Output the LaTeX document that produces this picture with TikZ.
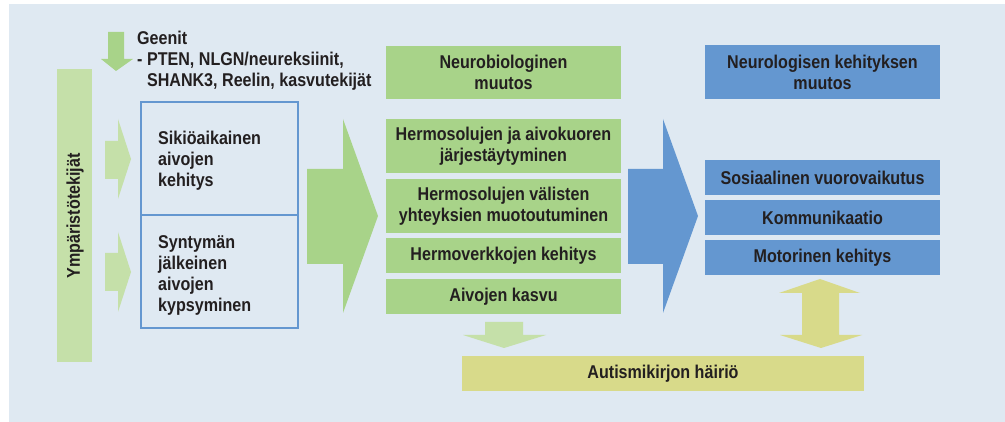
\documentclass[tikz,border=0pt]{standalone}
\usepackage{fontspec}
\setmainfont{Liberation Sans}[FakeStretch=0.87]
\definecolor{bgc}{HTML}{DFE9F2}
\definecolor{grn}{HTML}{A8D389}
\definecolor{lgrn}{HTML}{C5E0A9}
\definecolor{blu}{HTML}{6497D0}
\definecolor{khk}{HTML}{D8DA8A}
\definecolor{txt}{HTML}{231F20}
\tikzset{
  fnt/.style={font=\bfseries\fontsize{18.5}{21}\selectfont},
  gbox/.style={fnt, fill=grn, inner sep=0pt, align=center, text=txt},
  bbox/.style={fnt, fill=blu, inner sep=0pt, align=center, text=txt},
  kbox/.style={fnt, fill=khk, inner sep=0pt, align=center, text=txt},
  obox/.style={draw=blu, line width=2pt, inner sep=0pt},
  lbl/.style={fnt, text=txt, align=left, inner sep=0pt},
}
\begin{document}
\begin{tikzpicture}[x=1pt,y=-1pt]
\useasboundingbox (0,0) rectangle (1005,422);
\fill[white] (0,0) rectangle (1005,422);
\fill[bgc] (9,4) rectangle (1005,422);

% genes arrow
\fill[grn] (108,32) -- (124,32) -- (124,59) -- (133,59) -- (116,71) -- (101,59) -- (108,59) -- cycle;
\node[lbl, anchor=north west] (geenit) at (137,31) {Geenit\\- PTEN, NLGN/neureksiinit,\\\hphantom{- }SHANK3, Reelin, kasvutekijät};

% environment bar
\fill[lgrn] (57,69) rectangle (92,362);
\node[lbl, rotate=90] (ymp) at (75,216) {Ympäristötekijät};

% small arrows
\fill[lgrn] (105,141) -- (118,141) -- (118,119) -- (131,159) -- (118,199) -- (118,179) -- (105,179) -- cycle;
\fill[lgrn] (105,253) -- (118,253) -- (118,232) -- (131,272) -- (118,312) -- (118,291) -- (105,291) -- cycle;

% outlined boxes
\draw[obox] (141,102) rectangle (298,215);
\draw[obox] (141,215) rectangle (298,328);
\node[lbl, anchor=north west] (siki) at (158,131) {Sikiöaikainen\\aivojen\\kehitys};
\node[lbl, anchor=north west] (synt) at (158,235) {Syntymän\\jälkeinen\\aivojen\\kypsyminen};

% big green arrow
\fill[grn] (307,169) -- (343,169) -- (343,119) -- (378,216) -- (343,313) -- (343,264) -- (307,264) -- cycle;

% green column
\node[gbox, minimum width=235pt, minimum height=53pt] (nb) at (503.5,72.5) {Neurobiologinen\\muutos};
\node[gbox, minimum width=235pt, minimum height=54pt] (h1) at (503.5,146) {Hermosolujen ja aivokuoren\\järjestäytyminen};
\node[gbox, minimum width=235pt, minimum height=54pt] (h2) at (503.5,206) {Hermosolujen välisten\\yhteyksien muotoutuminen};
\node[gbox, minimum width=235pt, minimum height=35pt] (h3) at (503.5,255.5) {Hermoverkkojen kehitys};
\node[gbox, minimum width=235pt, minimum height=35pt] (h4) at (503.5,296.5) {Aivojen kasvu};

% down arrow light green
\fill[lgrn] (485,322) -- (523,322) -- (523,335) -- (546,335) -- (504,348) -- (463,335) -- (485,335) -- cycle;

% autism box
\node[kbox, minimum width=402pt, minimum height=35pt] (aut) at (663,373.5) {Autismikirjon häiriö};

% big blue arrow
\fill[blu] (628,169) -- (663,169) -- (663,119) -- (698,216) -- (663,313) -- (663,264) -- (628,264) -- cycle;

% blue column
\node[bbox, minimum width=235pt, minimum height=54pt] (nk) at (822.5,72) {Neurologisen kehityksen\\muutos};
\node[bbox, minimum width=235pt, minimum height=35pt] (sv) at (822.5,177.5) {Sosiaalinen vuorovaikutus};
\node[bbox, minimum width=235pt, minimum height=35pt] (ko) at (822.5,217.5) {Kommunikaatio};
\node[bbox, minimum width=235pt, minimum height=35pt] (mk) at (822.5,257.5) {Motorinen kehitys};

% khaki double arrow
\fill[khk] (820,279) -- (860,293) -- (839,293) -- (839,335) -- (862,335) -- (821,348) -- (780,335) -- (802,335) -- (802,293) -- (779,293) -- cycle;
\end{tikzpicture}
\end{document}
